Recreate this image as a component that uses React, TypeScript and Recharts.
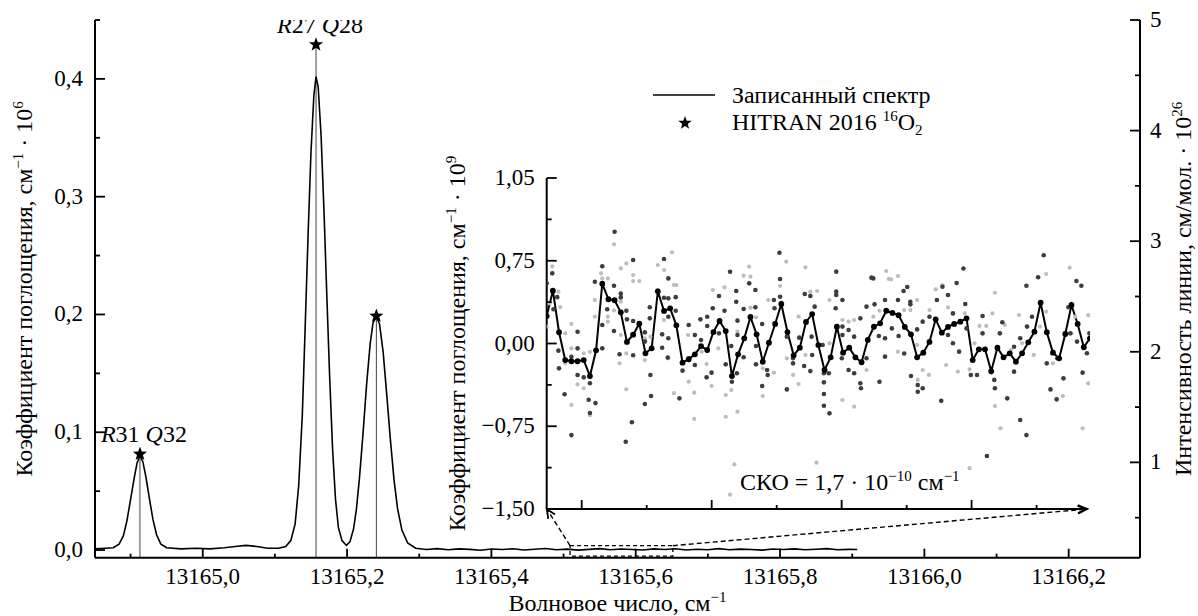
import React from 'react'
import {
  ComposedChart,
  Line,
  Scatter,
  XAxis,
  YAxis,
  ReferenceLine,
  ReferenceArea,
  ReferenceDot,
} from 'recharts'

const FONT = '"Liberation Serif", "DejaVu Serif", serif'
const W = 1198
const H = 616

// Recorded spectrum: [wavenumber cm^-1, absorption cm^-1 * 10^6]
const spectrum: [number, number][] = [
  [13164.851, 0.001], [13164.865, 0.0015], [13164.876, 0.002], [13164.884, 0.005],
  [13164.89, 0.012], [13164.895, 0.025], [13164.9, 0.043], [13164.905, 0.061],
  [13164.909, 0.074], [13164.913, 0.08], [13164.917, 0.075], [13164.921, 0.063],
  [13164.926, 0.044], [13164.931, 0.026], [13164.936, 0.013], [13164.942, 0.005],
  [13164.95, 0.002], [13164.97, 0.001], [13164.99, 0.0015], [13165.01, 0.001],
  [13165.03, 0.002], [13165.045, 0.003], [13165.06, 0.004], [13165.075, 0.003],
  [13165.09, 0.0015], [13165.105, 0.0015], [13165.115, 0.003], [13165.122, 0.008],
  [13165.128, 0.022], [13165.133, 0.055], [13165.138, 0.115], [13165.142, 0.19],
  [13165.146, 0.268], [13165.15, 0.338], [13165.154, 0.386], [13165.157, 0.402],
  [13165.16, 0.393], [13165.164, 0.352], [13165.168, 0.288], [13165.172, 0.215],
  [13165.176, 0.145], [13165.18, 0.085], [13165.184, 0.043], [13165.188, 0.019],
  [13165.193, 0.008], [13165.199, 0.004], [13165.204, 0.007], [13165.209, 0.018],
  [13165.213, 0.035], [13165.217, 0.06], [13165.222, 0.098], [13165.227, 0.14],
  [13165.232, 0.175], [13165.236, 0.193], [13165.2406, 0.198], [13165.245, 0.192],
  [13165.25, 0.168], [13165.255, 0.132], [13165.26, 0.094], [13165.265, 0.06],
  [13165.27, 0.035], [13165.276, 0.017], [13165.284, 0.006], [13165.295, 0.0015],
  [13165.31, 0.0005], [13165.325, 0.0012], [13165.34, 0.0002], [13165.355, 0.001],
  [13165.37, 0.0006], [13165.385, -0.0002], [13165.4, 0.0009], [13165.415, 0.0004],
  [13165.43, 0.0011], [13165.445, 0.0001], [13165.46, 0.0007], [13165.475, 0.0013],
  [13165.49, 0.0003], [13165.505, 0.0008], [13165.52, -0.0001], [13165.535, 0.0006],
  [13165.55, 0.0012], [13165.565, 0.0002], [13165.58, 0.0009], [13165.595, 0.0004],
  [13165.61, 0.0], [13165.625, 0.001], [13165.64, 0.0005], [13165.655, 0.0011],
  [13165.67, 0.0001], [13165.685, 0.0007], [13165.7, 0.0003], [13165.715, 0.0012],
  [13165.73, 0.0002], [13165.745, 0.0008], [13165.76, 0.0005], [13165.775, -0.0001],
  [13165.79, 0.0009], [13165.805, 0.0004], [13165.82, 0.001], [13165.835, 0.0002],
  [13165.85, 0.0007], [13165.865, 0.0012], [13165.88, 0.0003], [13165.895, 0.0006],
  [13165.907, 0.0004],
]

// HITRAN 2016 line intensities (right axis, cm/mol * 10^26)
const hitranNu = [13164.913, 13165.157, 13165.2406]
const hitranS = [1.076, 4.777, 2.324]
const hitranR = ['31', '27', '']
const hitranQ = ['32', '28', '']

// axis ranges and ticks
const xDomain = [13164.8507, 13166.2988]
const leftDomain = [-0.0065, 0.45]
const rightDomain = [0.138, 5]
const xTicks = [
  13164.9, 13165.0, 13165.1, 13165.2, 13165.3, 13165.4, 13165.5,
  13165.6, 13165.7, 13165.8, 13165.9, 13166.0, 13166.1, 13166.2,
]
const xTickLabels = [
  '', '13165,0', '', '13165,2', '', '13165,4', '', '13165,6', '', '13165,8', '', '13166,0', '', '13166,2',
]
const leftTicks = [0, 0.05, 0.1, 0.15, 0.2, 0.25, 0.3, 0.35, 0.4, 0.45]
const leftTickLabels = ['0,0', '', '0,1', '', '0,2', '', '0,3', '', '0,4', '']
const rightTicks = [0.5, 1, 1.5, 2, 2.5, 3, 3.5, 4, 4.5, 5]
const rightTickLabels = ['', '1', '', '2', '', '3', '', '4', '', '5']

// zoomed region on the main chart and where it points to (inset corners)
const zoomBox = { x1: 13165.509, x2: 13165.6514, y1: -0.0051, y2: 0.0037 }
const insetCornerLeft = { x: 13165.4768, y: 0.0348 }
const insetCornerRight = { x: 13166.2252, y: 0.0348 }

// Inset: averaged noise (line), single records (dark / light dots); x = point number
const insetLine = [
  0.249, 0.479, 0.102, -0.15, -0.161, -0.161, -0.15, -0.295, -0.062, 0.542,
  0.401, 0.392, 0.283, 0.014, 0.08, 0.18, -0.089, -0.044, 0.473, 0.295,
  0.319, 0.165, -0.174, -0.143, -0.098, -0.023, -0.059, 0.104, 0.204, 0.113,
  -0.295, -0.098, 0.047, 0.24, 0.083, -0.165, 0.007, 0.177, 0.358, 0.104,
  -0.107, -0.038, 0.195, 0.267, -0.014, -0.24, -0.125, 0.152, -0.083, -0.038,
  -0.125, -0.17, 0.032, 0.152, 0.183, 0.297, 0.277, 0.256, 0.15, 0.083,
  -0.125, -0.083, 0.014, 0.219, 0.098, 0.15, 0.177, 0.198, 0.228, -0.15,
  -0.053, -0.053, -0.252, -0.038, -0.125, -0.089, -0.165, -0.089, 0.011, 0.107,
  0.37, 0.102, -0.083, -0.134, 0.086, 0.349, 0.177, -0.034, 0.047,
]

const darkDots: [number, number][] = [
  [0.0, 0.545], [0.9, 0.636], [1.1, 0.31], [1.7, 0.42], [1.9, -0.065], [2.0, -0.225], [2.9, -0.46],
  [4.0, -0.83], [4.0, -0.12], [5.0, 0.107], [5.0, -0.044], [5.0, -0.285], [6.0, -0.307], [7.0, -0.36],
  [6.8, -0.51], [7.0, -0.63], [7.9, -0.54], [7.8, 0.56], [9.0, 0.7], [9.0, 0.168], [9.0, -0.044],
  [9.8, 0.31], [10.9, 0.524], [10.9, 0.113], [11.0, 1.013], [12.0, 0.452], [12.0, 0.418], [11.8, -0.098],
  [12.9, 0.297], [13.0, 0.219], [12.8, -0.89], [13.8, -0.714], [14.0, 0.757], [14.0, 0.204], [14.0, -0.107],
  [15.9, 0.101], [15.9, 0.017], [15.9, -0.548], [16.8, -0.285], [16.9, -0.476], [16.7, 0.328], [16.7, 0.228],
  [19.0, 0.766], [19.0, 0.415], [18.7, 0.083], [18.7, -0.038], [19.7, 0.59], [19.7, 0.409], [19.7, 0.243],
  [19.7, 0.047], [19.6, -0.128], [20.9, 0.42], [20.9, 0.297], [21.5, -0.497],
  [23.0, 0.168], [23.0, -0.134], [22.0, -0.246], [24.0, 0.077], [24.0, -0.195], [24.9, 0.219], [25.0, 0.032],
  [26.0, 0.243], [26.0, 0.159], [25.9, -0.307], [26.9, 0.319], [26.7, -0.264], [27.9, 0.43], [27.9, 0.092],
  [28.8, 0.297], [29.0, -0.189], [29.7, 0.65], [29.9, -0.023], [30.0, -0.346], [30.7, 0.476], [30.7, 0.379],
  [30.9, 0.207], [30.9, 0.077], [30.8, -0.27], [31.9, 0.313], [31.9, -0.125], [32.8, 0.545], [33.8, 0.485],
  [33.8, 0.328], [33.9, -0.023], [33.9, -0.189], [34.9, -0.385], [34.9, 0.177], [35.7, -0.24], [35.8, -0.285],
  [36.8, 0.394], [36.9, 0.319], [37.7, 0.823], [37.8, 0.584], [37.8, 0.424], [38.9, 0.062], [38.9, -0.416],
  [39.9, -0.134], [39.9, -0.18], [40.9, 0.053], [41.8, 0.448], [41.7, -0.204], [42.7, -0.25], [42.7, 0.43],
  [42.9, 0.062], [43.0, -0.104], [43.4, 0.334],
  [44.7, -0.013], [44.9, -0.27], [44.9, -0.352], [44.9, -0.458], [44.9, -0.564], [45.8, -0.633], [45.7, -0.27],
  [46.9, 0.651], [46.9, 0.47], [46.9, 0.44], [46.8, 0.319], [47.9, 0.394], [47.9, 0.153], [47.9, 0.077],
  [47.8, -0.134], [48.9, 0.122], [48.9, -0.24], [49.8, 0.062], [49.8, -0.27], [50.8, 0.228], [50.8, -0.36],
  [50.9, -0.406], [51.8, 0.334], [51.8, -0.134], [52.9, 0.59], [53.1, 0.355], [53.8, 0.068], [53.9, -0.346],
  [54.8, 0.394], [54.8, 0.047], [54.8, -0.119], [55.9, 0.137], [56.9, 0.394], [57.0, 0.068], [57.8, 0.476],
  [57.9, -0.09], [58.9, 0.379], [58.9, 0.355], [59.0, -0.295], [60.0, 0.128], [60.1, -0.376], [60.1, -0.437],
  [60.9, 0.198], [60.9, -0.406], [62.0, 0.243], [63.2, 0.394], [63.9, -0.52], [64.1, 0.515], [65.0, 0.44],
  [65.0, 0.077], [58.4, 0.512], [66.4, 0.548],
  [65.8, 0.273], [65.8, 0.002], [66.8, -0.074], [67.8, 0.358], [68.0, 0.137], [68.7, -0.285], [69.7, -0.285],
  [70.6, 0.249], [70.6, 0.092], [71.3, -1.02], [72.5, -0.33], [72.6, -0.406], [73.4, 0.092], [73.8, 0.192],
  [74.6, -0.497], [75.7, -0.255], [75.7, -0.029], [76.7, -0.694], [76.7, 0.047], [77.7, -0.83], [77.8, 0.153],
  [78.6, 0.243], [81.0, -0.18], [81.6, -0.416], [82.6, -0.506], [82.7, -0.134], [83.7, -0.316], [84.5, 0.328],
  [84.8, 0.092], [85.9, 0.017], [86.8, -0.264], [87.5, -0.089], [87.9, 0.092],
  [80.5, 0.8], [67.5, 0.68], [52.6, 0.597], [79.6, 0.6], [85.8, 0.567], [86.6, 0.524], [77.7, 0.524],
]

const lightDots: [number, number][] = [
  [0.9, 0.7], [0.5, 0.364], [0.0, 0.153], [1.9, 0.47], [2.2, 0.33], [3.0, 0.092], [3.0, -0.18], [4.0, 0.177],
  [4.0, -0.044], [4.0, -0.557], [5.0, -0.37], [6.0, -0.406], [6.0, -0.09], [7.0, -0.075], [7.0, -0.65],
  [7.8, 0.394], [7.8, 0.243], [8.8, 0.636], [9.0, 0.59], [9.9, 0.59], [9.9, 0.243], [9.9, 0.198],
  [10.9, 0.899], [10.9, 0.3], [11.8, -0.18], [12.0, 0.68], [12.0, 0.379], [12.0, 0.077], [12.9, 0.726],
  [12.9, -0.09], [12.9, -0.415], [14.0, 0.62], [14.0, 0.566], [15.0, 0.566], [15.9, 0.047], [15.9, -0.15],
  [16.8, 0.062], [18.0, 0.711], [18.0, 0.485], [19.0, 0.666], [19.0, 0.213], [19.7, -0.134], [20.6, 0.53],
  [20.3, 0.826], [20.6, -0.45],
  [21.0, 0.53], [23.0, -0.346], [22.9, 0.077], [23.9, -0.684], [23.9, -0.446], [25.1, -0.074], [25.9, -0.186],
  [26.7, -0.385], [26.9, 0.485], [27.8, -0.044], [28.8, 0.509], [29.0, -0.467], [29.0, -0.664], [29.9, -0.422],
  [30.9, -0.618], [30.9, 0.107], [31.9, 0.615], [32.8, 0.696], [33.0, 0.606], [33.0, 0.325], [33.9, 0.237],
  [35.0, -0.476], [35.0, -0.225], [35.9, 0.394], [36.8, -0.264], [37.8, 0.521], [38.8, 0.742], [38.9, -0.134],
  [39.9, -0.285], [40.8, 0.243], [40.8, -0.367], [41.9, 0.69], [41.9, -0.104], [42.7, 0.47], [30.4, -1.095],
  [29.7, -1.37],
  [43.8, 0.476], [43.7, -1.08], [45.8, 0.394], [45.8, 0.002], [47.9, -0.512], [47.9, 0.213], [48.9, 0.198],
  [49.8, -0.573], [49.8, 0.213], [50.9, -0.165], [51.8, -0.24], [52.9, 0.243], [53.9, 0.297], [55.0, 0.657],
  [55.8, 0.581], [56.9, 0.611], [56.9, -0.074], [57.9, 0.303], [58.9, 0.303], [60.0, 0.394], [60.0, -0.013],
  [60.1, -0.33], [60.9, -0.24], [62.0, 0.303], [61.9, -0.285], [63.0, 0.49], [64.1, 0.53], [65.0, 0.328],
  [64.7, -0.195], [55.4, 0.585],
  [66.6, -0.255], [67.7, 0.273], [68.5, -0.234], [69.3, 0.002], [70.1, 0.159], [71.2, 0.159], [72.2, 0.273],
  [73.5, -0.769], [72.6, -0.567], [74.2, 0.168], [75.2, -0.059], [76.5, 0.258], [77.0, 0.002], [78.9, -0.104],
  [79.9, 0.153], [80.9, 0.289], [82.0, -0.18], [83.6, -0.476], [85.0, 0.092], [85.6, 0.243], [86.8, -0.769],
  [87.7, -0.361], [87.7, 0.258], [68.5, -1.13], [72.6, 0.46], [84.7, 0.687], [80.9, 0.63],
]

const insetXDomain = [0, 88]
const insetYDomain = [-1.5, 1.5]
const insetXTicks = [5.67, 16.2, 26.72, 37.25, 47.77, 58.3, 68.82, 79.35]
const insetXMajor = [true, false, true, false, true, false, true, false]
const insetYTicks = [-1.5, -1.125, -0.75, -0.375, 0, 0.375, 0.75, 1.125, 1.5]
const insetYTickLabels = ['−1,50', '', '−0,75', '', '0,00', '', '0,75', '', '1,05']
const insetAxisEnd = 87.5
const rmsLabelAt = { u: 49.1, v: -1.328 }

const axisStyle = { stroke: '#000', strokeWidth: 2 }
const textStyle = { fontFamily: FONT, fill: '#000' }

function AxisTick(props: any) {
  const { x, y, payload, ticks, labels, majors, side } = props
  const i = ticks.findIndex((t: number) => Math.abs(t - payload.value) < 1e-6)
  const label = labels ? labels[i] || '' : ''
  const major = majors ? majors[i] : label !== ''
  if (side === 'bottom') {
    return (
      <g>
        <line x1={x} x2={x} y1={y} y2={y - (major ? 9 : 4)} stroke="#000" strokeWidth={1.8} />
        {label && (
          <text x={x} y={y + 26} textAnchor="middle" fontSize={23} {...textStyle}>
            {label}
          </text>
        )}
      </g>
    )
  }
  const len = major ? 10 : 5
  const dir = side === 'left' ? 1 : -1
  return (
    <g>
      <line x1={x} x2={x + dir * len} y1={y} y2={y} stroke="#000" strokeWidth={1.8} />
      {label && (
        <text
          x={side === 'left' ? x - 12 : x + 10}
          y={y + 7}
          textAnchor={side === 'left' ? 'end' : 'start'}
          fontSize={23}
          {...textStyle}
        >
          {label}
        </text>
      )}
    </g>
  )
}

// rotated axis title: main text, superscript, " · 10", superscript power
function VerticalTitle({ x, y, text, sup1, power }: any) {
  return (
    <text
      x={x}
      y={y}
      transform={`rotate(-90, ${x}, ${y})`}
      textAnchor="middle"
      fontSize={24}
      {...textStyle}
    >
      {text}
      {sup1 && (
        <tspan dy={-9} fontSize={15}>
          {sup1}
        </tspan>
      )}
      <tspan dy={sup1 ? 9 : 0}> · 10</tspan>
      <tspan dy={-9} fontSize={15}>
        {power}
      </tspan>
    </text>
  )
}

function ArrowLine(props: any) {
  const { x1, y1, x2, y2, dashed } = props
  const a = Math.atan2(y2 - y1, x2 - x1)
  const L = 9
  const Wd = 4
  const bx = x2 - L * Math.cos(a)
  const by = y2 - L * Math.sin(a)
  const p1 = `${bx + Wd * Math.sin(a)},${by - Wd * Math.cos(a)}`
  const p2 = `${bx - Wd * Math.sin(a)},${by + Wd * Math.cos(a)}`
  return (
    <g>
      <line
        x1={x1}
        y1={y1}
        x2={x2}
        y2={y2}
        stroke="#000"
        strokeWidth={dashed ? 1.4 : 2}
        strokeDasharray={dashed ? '5 3' : undefined}
      />
      <polyline points={`${p1} ${x2},${y2} ${p2}`} fill="none" stroke="#000" strokeWidth={1.8} />
    </g>
  )
}

function starPoints(cx: number, cy: number, ro: number, ri: number) {
  const pts: string[] = []
  for (let k = 0; k < 10; k++) {
    const r = k % 2 === 0 ? ro : ri
    const ang = -Math.PI / 2 + (k * Math.PI) / 5
    pts.push(`${cx + r * Math.cos(ang)},${cy + r * Math.sin(ang)}`)
  }
  return pts.join(' ')
}

function StarShape(props: any) {
  const { cx, cy, payload } = props
  return (
    <g>
      <polygon points={starPoints(cx, cy, 7.5, 3.1)} fill="#000" />
      {payload.r && (
        <text x={cx + 4} y={cy - 12} textAnchor="middle" fontSize={24} {...textStyle}>
          <tspan fontStyle="italic">R</tspan>
          <tspan>{payload.r + ' '}</tspan>
          <tspan fontStyle="italic">Q</tspan>
          <tspan>{payload.q}</tspan>
        </text>
      )}
    </g>
  )
}

export default function App() {
  const spectrumData = spectrum.map(([x, y]) => ({ x, y }))
  const hitranData = hitranNu.map((x, i) => ({ x, y: hitranS[i], r: hitranR[i], q: hitranQ[i] }))
  const lineData = insetLine.map((v, u) => ({ u, v }))
  const darkData = darkDots.map(([u, v]) => ({ u, v }))
  const lightData = lightDots.map(([u, v]) => ({ u, v }))

  return (
    <div style={{ position: 'absolute', left: 0, top: 0, width: W, height: H, background: '#fff' }}>
      <div style={{ position: 'absolute', left: 0, top: 0 }}>
        <ComposedChart width={W} height={H} margin={{ top: 20, right: 0, bottom: 0, left: 0 }}>
          <XAxis
            type="number"
            dataKey="x"
            domain={xDomain}
            allowDataOverflow
            ticks={xTicks}
            interval={0}
            height={58.3}
            tickLine={false}
            tickSize={0}
            tickMargin={0}
            axisLine={axisStyle}
            tick={<AxisTick side="bottom" ticks={xTicks} labels={xTickLabels} />}
            label={(p: any) => {
              const vb = p.viewBox || { x: 95, y: 557.7, width: 1045 }
              return (
                <text x={vb.x + vb.width / 2} y={vb.y + 53.5} textAnchor="middle" fontSize={24} {...textStyle}>
                  Волновое число, см
                  <tspan dy={-9} fontSize={15}>
                    −1
                  </tspan>
                </text>
              )
            }}
          />
          <YAxis
            yAxisId="l"
            type="number"
            dataKey="y"
            domain={leftDomain}
            allowDataOverflow
            ticks={leftTicks}
            interval={0}
            width={95}
            tickLine={false}
            tickSize={0}
            tickMargin={0}
            axisLine={axisStyle}
            tick={<AxisTick side="left" ticks={leftTicks} labels={leftTickLabels} />}
            label={(p: any) => {
              const vb = p.viewBox || { x: 0, y: 20, height: 537.7 }
              return (
                <VerticalTitle
                  x={vb.x + 32}
                  y={vb.y + vb.height / 2}
                  text="Коэффициент поглощения, см"
                  sup1="−1"
                  power="6"
                />
              )
            }}
          />
          <YAxis
            yAxisId="r"
            orientation="right"
            type="number"
            dataKey="y"
            domain={rightDomain}
            allowDataOverflow
            ticks={rightTicks}
            interval={0}
            width={58}
            tickLine={false}
            tickSize={0}
            tickMargin={0}
            axisLine={axisStyle}
            tick={<AxisTick side="right" ticks={rightTicks} labels={rightTickLabels} />}
            label={(p: any) => {
              const vb = p.viewBox || { x: 1140, y: 20, height: 537.7 }
              return (
                <VerticalTitle
                  x={vb.x + 51}
                  y={vb.y + vb.height / 2}
                  text="Интенсивность линии, см/мол."
                  power="26"
                />
              )
            }}
          />

          {hitranNu.map((nu, i) => (
            <ReferenceLine
              key={'stick' + i}
              yAxisId="r"
              segment={[
                { x: nu, y: rightDomain[0] },
                { x: nu, y: hitranS[i] },
              ]}
              stroke="#444"
              strokeWidth={1}
              ifOverflow="visible"
            />
          ))}

          <ReferenceArea
            yAxisId="l"
            x1={zoomBox.x1}
            x2={zoomBox.x2}
            y1={zoomBox.y1}
            y2={zoomBox.y2}
            fill="none"
            stroke="#000"
            strokeWidth={1.3}
            strokeDasharray="4 3"
            ifOverflow="visible"
          />
          <ReferenceLine
            yAxisId="l"
            segment={[{ x: zoomBox.x1, y: zoomBox.y2 }, insetCornerLeft]}
            ifOverflow="visible"
            shape={<ArrowLine dashed />}
          />
          <ReferenceLine
            yAxisId="l"
            segment={[{ x: zoomBox.x2, y: zoomBox.y2 }, insetCornerRight]}
            ifOverflow="visible"
            shape={<ArrowLine dashed />}
          />

          <Line
            yAxisId="l"
            data={spectrumData}
            dataKey="y"
            type="linear"
            stroke="#000"
            strokeWidth={1.6}
            dot={false}
            isAnimationActive={false}
          />
          <Scatter
            yAxisId="r"
            data={hitranData}
            dataKey="y"
            shape={<StarShape />}
            isAnimationActive={false}
          />
        </ComposedChart>
      </div>

      <div style={{ position: 'absolute', left: 0, top: 0 }}>
        <ComposedChart width={W} height={H} margin={{ top: 178, right: 108, bottom: 0, left: 0 }}>
          <XAxis
            type="number"
            dataKey="u"
            domain={insetXDomain}
            allowDataOverflow
            ticks={insetXTicks}
            interval={0}
            height={107}
            tickLine={false}
            tickSize={0}
            tickMargin={0}
            axisLine={false}
            tick={<AxisTick side="bottom" ticks={insetXTicks} majors={insetXMajor} />}
          />
          <YAxis
            type="number"
            dataKey="v"
            domain={insetYDomain}
            allowDataOverflow
            ticks={insetYTicks}
            interval={0}
            width={546.7}
            tickLine={false}
            tickSize={0}
            tickMargin={0}
            axisLine={axisStyle}
            tick={<AxisTick side="left" ticks={insetYTicks} labels={insetYTickLabels} />}
            label={(p: any) => {
              const vb = p.viewBox || { x: 0, y: 178, width: 546.7, height: 331 }
              return (
                <VerticalTitle
                  x={vb.x + vb.width - 82}
                  y={vb.y + vb.height / 2}
                  text="Коэффициент поглощения, см"
                  sup1="−1"
                  power="9"
                />
              )
            }}
          />
          <ReferenceLine
            segment={[
              { x: insetXDomain[0], y: insetYDomain[0] },
              { x: insetAxisEnd, y: insetYDomain[0] },
            ]}
            ifOverflow="visible"
            shape={<ArrowLine />}
          />
          <Scatter
            data={lightData}
            dataKey="v"
            isAnimationActive={false}
            shape={(p: any) => <circle cx={p.cx} cy={p.cy} r={2.1} fill="#bdbdbd" />}
          />
          <Scatter
            data={darkData}
            dataKey="v"
            isAnimationActive={false}
            shape={(p: any) => <circle cx={p.cx} cy={p.cy} r={2.3} fill="#3d3d3d" />}
          />
          <Line
            data={lineData}
            dataKey="v"
            type="linear"
            stroke="#000"
            strokeWidth={2}
            dot={{ r: 2.9, fill: '#000', stroke: 'none' }}
            isAnimationActive={false}
          />
          <ReferenceDot
            x={rmsLabelAt.u}
            y={rmsLabelAt.v}
            ifOverflow="visible"
            shape={(p: any) => (
              <text x={p.cx} y={p.cy} textAnchor="middle" fontSize={24} {...textStyle}>
                СКО = 1,7 · 10
                <tspan dy={-9} fontSize={15}>
                  −10
                </tspan>
                <tspan dy={9}> см</tspan>
                <tspan dy={-9} fontSize={15}>
                  −1
                </tspan>
              </text>
            )}
          />
        </ComposedChart>
      </div>

      <svg
        width={330}
        height={60}
        style={{ position: 'absolute', left: 640, top: 78, overflow: 'visible' }}
      >
        <line x1={13} x2={75} y1={17} y2={17} stroke="#000" strokeWidth={1.6} />
        <text x={92} y={25} fontSize={24} {...textStyle}>
          Записанный спектр
        </text>
        <polygon points={starPoints(45, 45, 7, 2.9)} fill="#000" />
        <text x={92} y={52} fontSize={24} {...textStyle}>
          HITRAN 2016{' '}
          <tspan dy={-9} fontSize={15}>
            16
          </tspan>
          <tspan dy={9}>O</tspan>
          <tspan dy={5} fontSize={15}>
            2
          </tspan>
        </text>
      </svg>
    </div>
  )
}
